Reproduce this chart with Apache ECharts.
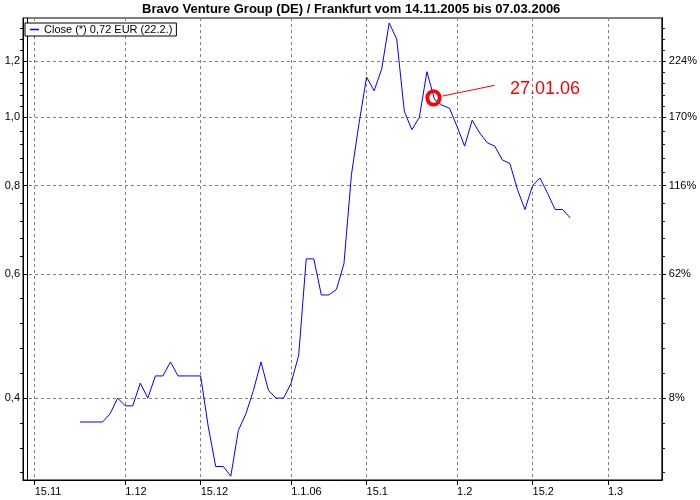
<!DOCTYPE html>
<html>
<head>
<meta charset="utf-8">
<script src="https://cdn.jsdelivr.net/npm/echarts@6/dist/echarts.min.js"></script>
<style>html,body{margin:0;padding:0;background:#fff}#c{width:700px;height:500px}</style>
</head>
<body>
<div id="c"></div>
<script>
// all trading (week) days on the x axis, 14.11.2005 .. 10.03.2006
const tradingDays = [
 '14.11.05','15.11.05','16.11.05','17.11.05','18.11.05','21.11.05','22.11.05','23.11.05','24.11.05','25.11.05',
 '28.11.05','29.11.05','30.11.05','01.12.05','02.12.05','05.12.05','06.12.05','07.12.05','08.12.05','09.12.05',
 '12.12.05','13.12.05','14.12.05','15.12.05','16.12.05','19.12.05','20.12.05','21.12.05','22.12.05','23.12.05',
 '26.12.05','27.12.05','28.12.05','29.12.05','30.12.05','02.01.06','03.01.06','04.01.06','05.01.06','06.01.06',
 '09.01.06','10.01.06','11.01.06','12.01.06','13.01.06','16.01.06','17.01.06','18.01.06','19.01.06','20.01.06',
 '23.01.06','24.01.06','25.01.06','26.01.06','27.01.06','30.01.06','31.01.06','01.02.06','02.02.06','03.02.06',
 '06.02.06','07.02.06','08.02.06','09.02.06','10.02.06','13.02.06','14.02.06','15.02.06','16.02.06','17.02.06',
 '20.02.06','21.02.06','22.02.06','23.02.06','24.02.06','27.02.06','28.02.06','01.03.06','02.03.06','03.03.06',
 '06.03.06','07.03.06','08.03.06','09.03.06','10.03.06'
];
const closeDates = [
 '23.11.05','24.11.05','25.11.05','28.11.05','29.11.05','30.11.05','01.12.05','02.12.05','05.12.05','06.12.05',
 '07.12.05','08.12.05','09.12.05','12.12.05','13.12.05','14.12.05','15.12.05','16.12.05','19.12.05','20.12.05',
 '21.12.05','22.12.05','23.12.05','26.12.05','27.12.05','28.12.05','29.12.05','30.12.05','02.01.06','03.01.06',
 '04.01.06','05.01.06','06.01.06','09.01.06','10.01.06','11.01.06','12.01.06','13.01.06','16.01.06','17.01.06',
 '18.01.06','19.01.06','20.01.06','23.01.06','24.01.06','25.01.06','26.01.06','27.01.06','30.01.06','31.01.06',
 '01.02.06','02.02.06','03.02.06','06.02.06','07.02.06','08.02.06','09.02.06','10.02.06','13.02.06','14.02.06',
 '15.02.06','16.02.06','17.02.06','20.02.06','21.02.06','22.02.06'
];
const closeValues = [
 0.37,0.37,0.37,0.37,0.38,0.40,0.39,0.39,0.42,0.40,
 0.43,0.43,0.45,0.43,0.43,0.43,0.43,0.365,0.32,0.32,
 0.31,0.36,0.38,0.41,0.45,0.41,0.40,0.40,0.42,0.46,
 0.63,0.63,0.56,0.56,0.57,0.62,0.83,0.98,1.14,1.09,
 1.17,1.36,1.29,1.02,0.96,1.00,1.16,1.06,1.04,1.03,
 0.97,0.91,0.99,0.95,0.92,0.91,0.87,0.86,0.79,0.74,
 0.80,0.82,0.78,0.74,0.74,0.72
];
const xTickDates  = ['15.11.05','01.12.05','15.12.05','02.01.06','16.01.06','01.02.06','15.02.06','01.03.06'];
const xTickLabels = ['15.11','1.12','15.12','1.1.06','15.1','1.2','15.2','1.3'];
const yTicks = [0.4, 0.6, 0.8, 1.0, 1.2];
const seriesName = 'Close (*) 0,72 EUR (22.2.)';
const titleText = 'Bravo Venture Group (DE) / Frankfurt vom 14.11.2005 bis 07.03.2006';
const annotation = { date: '27.01.06', value: 1.06, label: '27.01.06' };

// axis ranges (layout)
const xMin = -0.55, xMax = 84.15;
const yMin = 0.3062, yMax = 1.3823;
const basePrice = closeValues[0];

// minor ticks: 5 even (log) subdivisions between major ticks
const minorTicks = [];
for (let k = 0; k < yTicks.length - 1; k++) {
  const a = yTicks[k], b = yTicks[k + 1];
  for (let j = 1; j < 5; j++) minorTicks.push(a * Math.pow(b / a, j / 5));
}
{
  const r0 = Math.pow(yTicks[1] / yTicks[0], 1 / 5);
  for (let v = yTicks[0] / r0; v >= yMin; v /= r0) minorTicks.push(v);
  const n = yTicks.length;
  const r1 = Math.pow(yTicks[n - 1] / yTicks[n - 2], 1 / 5);
  for (let v = yTicks[n - 1] * r1; v <= yMax; v *= r1) minorTicks.push(v);
}

const xTickIdx = xTickDates.map(d => tradingDays.indexOf(d));
const seriesData = closeDates.map((d, k) => [tradingDays.indexOf(d), closeValues[k]]);

const FONT = 'Liberation Sans, Arial, sans-serif';
const gridDash = { color: '#808080', type: [3, 3], width: 1 };

function yAxisCommon(extra) {
  return Object.assign({
    type: 'log', logBase: 10, min: yMin, max: yMax,
    axisLine: { show: true, lineStyle: { color: '#000', width: 1 } },
    splitLine: { show: false },
    minorTick: { show: false },
    minorSplitLine: { show: false }
  }, extra);
}

const chart = echarts.init(document.getElementById('c'), null, { renderer: 'canvas' });
chart.setOption({
  animation: false,
  backgroundColor: '#fff',
  title: {
    text: titleText, left: 142, top: 3, padding: 0,
    textStyle: { fontFamily: FONT, fontSize: 13, fontWeight: 'bold', color: '#000' }
  },
  legend: {
    left: 25, top: 23, padding: [1, 4, 1, 5],
    borderColor: '#000', borderWidth: 1, backgroundColor: '#fff', borderRadius: 0,
    itemWidth: 9, itemHeight: 1.5,
    data: [{ name: seriesName, icon: 'rect' }],
    textStyle: { fontFamily: FONT, fontSize: 11, color: '#000' }
  },
  grid: { left: 23, right: 36, top: 18, bottom: 20, show: true, borderColor: '#000', borderWidth: 1, backgroundColor: '#fff' },
  xAxis: {
    type: 'value', min: xMin, max: xMax,
    axisLine: { show: true, onZero: false, lineStyle: { color: '#000', width: 1 } },
    axisTick: { show: true, length: 5, customValues: xTickIdx, lineStyle: { color: '#000' } },
    axisLabel: {
      customValues: xTickIdx, margin: 6, align: 'left',
      fontFamily: FONT, fontSize: 11, color: '#000',
      formatter: v => xTickLabels[xTickIdx.indexOf(Math.round(v))] || ''
    },
    splitLine: { show: true, lineStyle: gridDash }
  },
  yAxis: [
    yAxisCommon({
      position: 'left',
      axisTick: { show: true, length: 4, customValues: yTicks, lineStyle: { color: '#000' } },
      axisLabel: {
        customValues: yTicks, margin: 3, fontFamily: FONT, fontSize: 11, color: '#000',
        formatter: v => v.toFixed(1).replace('.', ',')
      },
      splitLine: { show: true, lineStyle: gridDash }
    }),
    yAxisCommon({
      position: 'left',
      axisTick: { show: true, length: 3, customValues: minorTicks, lineStyle: { color: '#000' } },
      axisLabel: { show: false }
    }),
    yAxisCommon({
      position: 'right',
      axisTick: { show: true, length: 4, customValues: yTicks, lineStyle: { color: '#000' } },
      axisLabel: {
        customValues: yTicks, margin: 7, fontFamily: FONT, fontSize: 11, color: '#000',
        formatter: v => Math.round((v / basePrice - 1) * 100) + '%'
      }
    }),
    yAxisCommon({
      position: 'right',
      axisTick: { show: true, length: 3, customValues: minorTicks, lineStyle: { color: '#000' } },
      axisLabel: { show: false }
    })
  ],
  series: [{
    name: seriesName, type: 'line', yAxisIndex: 0, data: seriesData,
    showSymbol: false, symbol: 'none', color: '#0000ff',
    lineStyle: { color: '#0000ff', width: 1 }
  }]
});

// annotation anchored to its data point via the chart's own scales
const p = chart.convertToPixel({ xAxisIndex: 0, yAxisIndex: 0 }, [tradingDays.indexOf(annotation.date), annotation.value]);
chart.setOption({
  graphic: [
    { type: 'line', silent: true, z: 100,
      shape: { x1: p[0] + 8, y1: p[1] - 3.3, x2: p[0] + 60, y2: p[1] - 14 },
      style: { stroke: '#ff0000', lineWidth: 1 } },
    { type: 'ellipse', silent: true, z: 101,
      shape: { cx: p[0] - 1, cy: p[1] - 1.5, rx: 6.2, ry: 6.8 },
      style: { fill: 'none', stroke: '#ff0000', lineWidth: 3.8 } },
    { type: 'text', silent: true, z: 101,
      x: p[0] + 75.5, y: p[1] - 10,
      style: { text: annotation.label, font: '18px ' + FONT, fill: '#ff0000', verticalAlign: 'middle', align: 'left' } }
  ]
});
</script>
</body>
</html>
